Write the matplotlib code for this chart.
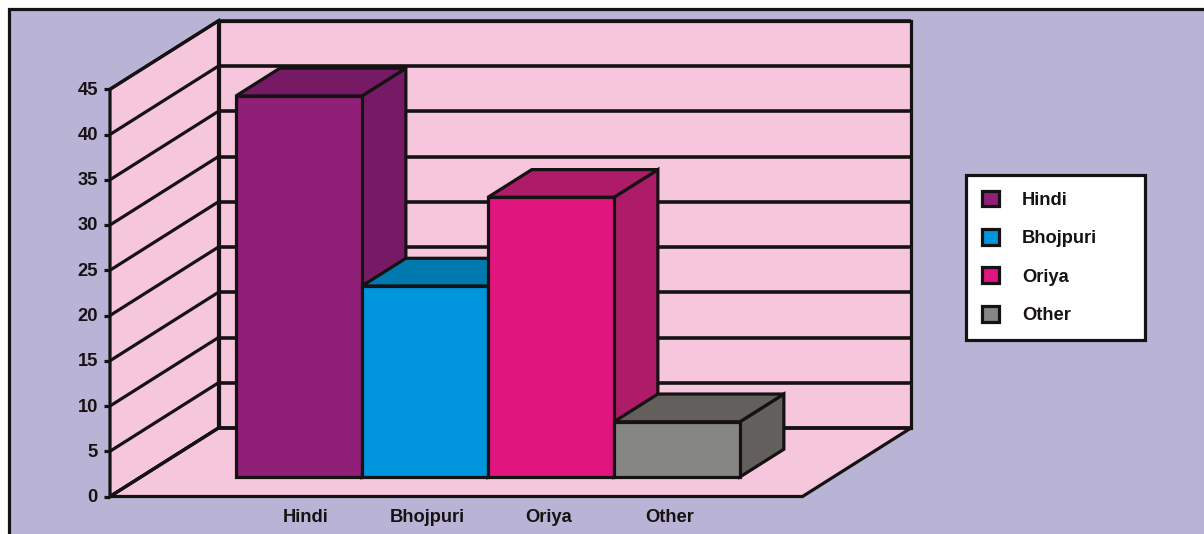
import matplotlib
matplotlib.use("Agg")
import matplotlib.pyplot as plt
from matplotlib.patches import Polygon, Patch, Rectangle

categories = ["Hindi", "Bhojpuri", "Oriya", "Other"]
values = [42.1, 21.1, 30.9, 6.1]
y_ticks = [0, 5, 10, 15, 20, 25, 30, 35, 40, 45]

front_colors = ["#901F78", "#0095DD", "#E0157E", "#868684"]
shade_colors = ["#771A65", "#0079AE", "#AE1B68", "#625F5C"]
BG = "#B9B3D5"
WALL = "#F6C6DC"
INK = "#161213"
FONT = ["Liberation Sans", "DejaVu Sans"]
FS = 13.2
LW = 2.3

W, H = 1204, 534
fig = plt.figure(figsize=(W / 100, H / 100), dpi=100, facecolor="white")
ax = fig.add_axes([0, 0, 1, 1])
ax.set_xlim(0, W)
ax.set_ylim(H, 0)
ax.axis("off")

# oblique projection: horizontal pixels along the front, value units, depth 0..1
X0, Y0 = 110.0, 496.5
SLOT = 126.0
PX_PER_VALUE = 9.05
DX, DY = 108.5, -68.5
VMAX = y_ticks[-1]
XSPAN = 692.5
BAR_START = 95.0
D_FRONT, D_BACK = 0.285, 0.69
LABEL_X0, LABEL_STEP, LABEL_Y = 306.0, 121.3, 518


def P(xpx, v, d):
    return (X0 + xpx + DX * d, Y0 - v * PX_PER_VALUE + DY * d)


def poly(pts, fc, z, lw=LW):
    ax.add_patch(Polygon(pts, closed=True, facecolor=fc, edgecolor=INK,
                         linewidth=lw, joinstyle="miter", zorder=z))


# background and frame
ax.add_patch(Rectangle((8.5, 8.5), W + 20, H + 20, facecolor=BG, edgecolor=INK,
                       linewidth=LW, zorder=0))

# walls and floor
poly([P(0, 0, 1), P(XSPAN, 0, 1), P(XSPAN, VMAX, 1), P(0, VMAX, 1)], WALL, 1)
poly([P(0, 0, 0), P(0, 0, 1), P(0, VMAX, 1), P(0, VMAX, 0)], WALL, 1)
poly([P(0, 0, 0), P(XSPAN, 0, 0), P(XSPAN, 0, 1), P(0, 0, 1)], WALL, 1)

# gridlines, ticks, tick labels
for t in y_ticks:
    ax.plot(*zip(P(0, t, 1), P(XSPAN, t, 1)), color=INK, lw=LW + 0.3,
            solid_capstyle="butt", zorder=2)
    ax.plot(*zip(P(0, t, 0), P(0, t, 1)), color=INK, lw=LW,
            solid_capstyle="butt", zorder=2)
    x, y = P(0, t, 0)
    ax.plot([x - 6, x], [y, y], color=INK, lw=LW, solid_capstyle="butt", zorder=2)
    ax.text(x - 12, y + 1, str(t), ha="right", va="center", fontsize=FS,
            fontweight="bold", family=FONT, color=INK, zorder=5)

# bars
for i, (name, v) in enumerate(zip(categories, values)):
    left = BAR_START + i * SLOT
    right = left + SLOT
    z = 3 + i * 0.1
    poly([P(right, 0, D_FRONT), P(right, 0, D_BACK), P(right, v, D_BACK), P(right, v, D_FRONT)],
         shade_colors[i], z)
    poly([P(left, v, D_FRONT), P(right, v, D_FRONT), P(right, v, D_BACK), P(left, v, D_BACK)],
         shade_colors[i], z)
    poly([P(left, 0, D_FRONT), P(right, 0, D_FRONT), P(right, v, D_FRONT), P(left, v, D_FRONT)],
         front_colors[i], z)
    ax.text(LABEL_X0 + i * LABEL_STEP, LABEL_Y, name, ha="center", va="center",
            fontsize=FS, fontweight="bold", family=FONT, color=INK, zorder=5)

# legend
handles = [Patch(facecolor=c, edgecolor=INK, linewidth=LW, label=n)
           for c, n in zip(front_colors, categories)]
leg = ax.legend(handles=handles, loc="upper left", mode="expand",
                bbox_to_anchor=(966, 175, 179, 167),
                bbox_transform=ax.transData, frameon=True, fancybox=False,
                framealpha=1, facecolor="white", edgecolor=INK,
                prop={"family": FONT, "weight": "bold", "size": FS},
                handlelength=0.95, handleheight=0.95, handletextpad=1.25,
                labelspacing=1.1, borderpad=0.85, borderaxespad=0,
                labelcolor=INK)
leg.get_frame().set_linewidth(LW)
leg.set_zorder(6)

fig.savefig("out.png", dpi=100)
